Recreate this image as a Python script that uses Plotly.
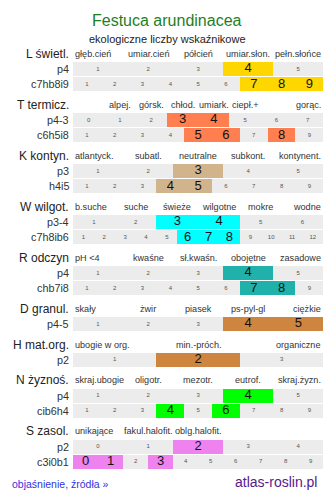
import plotly.graph_objects as go

FONT = "Liberation Sans, Arial, sans-serif"

title = "Festuca arundinacea"
subtitle = "ekologiczne liczby wskaźnikowe"
link_text = "objaśnienie, źródła »"
site_text = "atlas-roslin.pl"

# ---- data: section name, header labels (aligned to first row scale), rows ----
L_name = "L świetl."
L_labels = ["głęb.cień", "umiar.cień", "półcień", "umiar.słon.", "pełn.słońce"]
L_rows = ["p4", "c7hb8i9"]
L_scales = [(1, 5), (1, 9)]
L_values = [[4], [7, 8, 9]]

T_name = "T termicz."
T_labels = ["", "alpej.", "górsk.", "chłod.", "umiark.", "ciepł.+", "", "gorąc."]
T_rows = ["p4-3", "c6h5i8"]
T_scales = [(0, 7), (1, 9)]
T_values = [[3, 4], [5, 6, 8]]

K_name = "K kontyn."
K_labels = ["atlantyck.", "subatl.", "neutralne", "subkont.", "kontynent."]
K_rows = ["p3", "h4i5"]
K_scales = [(1, 5), (1, 9)]
K_values = [[3], [4, 5]]

W_name = "W wilgot."
W_labels = ["b.suche", "suche", "świeże", "wilgotne", "mokre", "wodne"]
W_rows = ["p3-4", "c7h8ib6"]
W_scales = [(1, 6), (1, 12)]
W_values = [[3, 4], [6, 7, 8]]

R_name = "R odczyn"
R_labels = ["pH <4", "kwaśne", "sł.kwaśn.", "obojętne", "zasadowe"]
R_rows = ["p4", "chb7i8"]
R_scales = [(1, 5), (1, 9)]
R_values = [[4], [7, 8]]

D_name = "D granul."
D_labels = ["skały", "żwir", "piasek", "ps-pyl-gl", "ciężkie"]
D_rows = ["p4-5"]
D_scales = [(1, 5)]
D_values = [[4, 5]]

H_name = "H mat.org."
H_labels = ["ubogie w org.", "min.-próch.", "organiczne"]
H_rows = ["p2"]
H_scales = [(1, 3)]
H_values = [[2]]

N_name = "N żyznoś."
N_labels = ["skraj.ubogie", "oligotr.", "mezotr.", "eutrof.", "skraj.żyzn."]
N_rows = ["p4", "cib6h4"]
N_scales = [(1, 5), (1, 9)]
N_values = [[4], [4, 6]]

S_name = "S zasol."
S_labels = ["unikające", "fakul.halofit.", "oblg.halofit.", "", ""]
S_rows = ["p2", "c3i0b1"]
S_scales = [(0, 4), (0, 9)]
S_values = [[2], [0, 1, 3]]

section_colors = ["#FFD700", "#FF7F50", "#D2B48C", "#00FFFF", "#20B2AA",
                  "#CD853F", "#CD853F", "#00FF00", "#EE82EE"]

sections = [
    (L_name, L_labels, L_rows, L_scales, L_values),
    (T_name, T_labels, T_rows, T_scales, T_values),
    (K_name, K_labels, K_rows, K_scales, K_values),
    (W_name, W_labels, W_rows, W_scales, W_values),
    (R_name, R_labels, R_rows, R_scales, R_values),
    (D_name, D_labels, D_rows, D_scales, D_values),
    (H_name, H_labels, H_rows, H_scales, H_values),
    (N_name, N_labels, N_rows, N_scales, N_values),
    (S_name, S_labels, S_rows, S_scales, S_values),
]

# ---- layout geometry (pixels) ----
W_PX, H_PX = 334, 499
GRID_L, GRID_R = 73, 323.3
first_top = 62.0
pitch = 15.2
gap = 20.6
bar_h = 14.2
hdr_off = 8.3
GRAY = "#ECECEC"

annotations = []
hl_traces = []

gray_y, gray_x, gray_base = [], [], []
txt_x, txt_y, txt_t, txt_s, txt_c = [], [], [], [], []

top = first_top
for (name, labels, rows, scales, values), color in zip(sections, section_colors):
    hdr_y = top - hdr_off
    annotations.append(dict(xref="paper", yref="y", x=70.8 / W_PX, y=hdr_y,
                            text=name, showarrow=False, xanchor="right", yanchor="middle",
                            font=dict(size=12, color="#222", family=FONT)))
    n0 = scales[0][1] - scales[0][0] + 1
    for i, lab in enumerate(labels):
        if not lab:
            continue
        if i == 0:
            xa, xv = "left", 0.0
        elif i == len(labels) - 1:
            xa, xv = "right", 1.0
        else:
            xa, xv = "center", (i + 0.5) / n0
        annotations.append(dict(xref="x", yref="y", x=xv, y=hdr_y, text=lab,
                                showarrow=False, xanchor=xa, yanchor="middle",
                                font=dict(size=9.1, color="#333", family=FONT)))
    hl_y, hl_x, hl_base = [], [], []
    for r, (rname, (lo, hi), vals) in enumerate(zip(rows, scales, values)):
        yc = top + r * pitch + bar_h / 2
        n = hi - lo + 1
        gray_y.append(yc); gray_x.append(1.0); gray_base.append(0.0)
        annotations.append(dict(xref="paper", yref="y", x=70.5 / W_PX, y=yc,
                                text=rname, showarrow=False, xanchor="right", yanchor="middle",
                                font=dict(size=10.8, color="#333", family=FONT)))
        for k in range(n):
            v = lo + k
            big = v in vals
            if big:
                hl_y.append(yc); hl_x.append(1.0 / n); hl_base.append(k / n)
            txt_x.append((k + 0.5) / n)
            txt_y.append(yc)
            txt_t.append(str(v))
            txt_s.append(13 if big else 6)
            txt_c.append("#111" if big else "#555")
    hl_traces.append(go.Bar(orientation="h", y=hl_y, x=hl_x, base=hl_base,
                            width=[bar_h] * len(hl_y), marker=dict(color=color, line=dict(width=0)),
                            hoverinfo="skip", showlegend=False))
    top = top + len(rows) * pitch + gap

fig = go.Figure()
fig.add_trace(go.Bar(orientation="h", y=gray_y, x=gray_x, base=gray_base,
                     width=[bar_h] * len(gray_y), marker=dict(color=GRAY, line=dict(width=0)),
                     hoverinfo="skip", showlegend=False))
for t in hl_traces:
    fig.add_trace(t)

fig.add_trace(go.Scatter(x=txt_x, y=txt_y, text=txt_t, mode="text",
                         textposition="middle center",
                         textfont=dict(size=txt_s, color=txt_c, family=FONT),
                         hoverinfo="skip", showlegend=False))

annotations += [
    dict(xref="paper", yref="y", x=0.5, y=20, text=title, showarrow=False,
         xanchor="center", yanchor="middle", font=dict(size=16, color="#1E7F1E", family=FONT)),
    dict(xref="paper", yref="y", x=0.5, y=38.5, text=subtitle, showarrow=False,
         xanchor="center", yanchor="middle", font=dict(size=11, color="#222", family=FONT)),
    dict(xref="paper", yref="y", x=10 / W_PX, y=483.5, text=link_text, showarrow=False,
         xanchor="left", yanchor="middle", font=dict(size=10.5, color="#3333DD", family=FONT)),
    dict(xref="paper", yref="y", x=318.5 / W_PX, y=482, text=site_text, showarrow=False,
         xanchor="right", yanchor="middle", font=dict(size=14, color="#551A8B", family=FONT)),
]

fig.update_layout(
    width=W_PX, height=H_PX,
    margin=dict(l=0, r=0, t=0, b=0, pad=0),
    paper_bgcolor="white", plot_bgcolor="white",
    barmode="overlay", bargap=0,
    xaxis=dict(domain=[GRID_L / W_PX, GRID_R / W_PX], range=[0, 1], visible=False, fixedrange=True),
    yaxis=dict(range=[H_PX, 0], visible=False, fixedrange=True),
    annotations=annotations,
    showlegend=False,
)

fig.write_html("out.html", config={"displayModeBar": False, "staticPlot": True})
